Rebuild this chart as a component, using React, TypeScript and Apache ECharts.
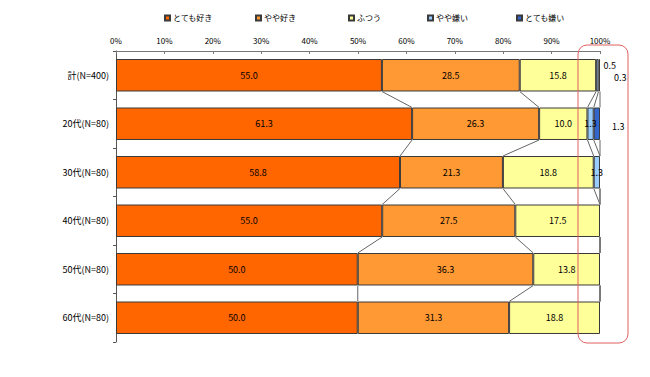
import React, { useEffect, useRef } from "react";
import * as echarts from "echarts";

const categories = ["計(N=400)", "20代(N=80)", "30代(N=80)", "40代(N=80)", "50代(N=80)", "60代(N=80)"];
const seriesNames = ["とても好き", "やや好き", "ふつう", "やや嫌い", "とても嫌い"];
const veryLike = [55.0, 61.3, 58.8, 55.0, 50.0, 50.0];
const somewhatLike = [28.5, 26.3, 21.3, 27.5, 36.3, 31.3];
const neutral = [15.8, 10.0, 18.8, 17.5, 13.8, 18.8];
const somewhatDislike = [0.5, 1.3, 1.3, 0, 0, 0];
const veryDislike = [0.3, 1.3, 0, 0, 0, 0];
const colors = ["#FF6600", "#FF9933", "#FFFF99", "#99CCFF", "#3366CC"];
const legendLefts = [159, 250, 343, 422, 511];

const FONT = "'Noto Sans CJK JP', 'Noto Sans', sans-serif";

export default function App() {
  const ref = useRef<HTMLDivElement>(null);
  useEffect(() => {
    if (!ref.current) return;
    const chart = echarts.init(ref.current, null, { renderer: "svg" });
    const raw = [veryLike, somewhatLike, neutral, somewhatDislike, veryDislike];
    const totals = categories.map((_, i) => raw.reduce((s, arr) => s + arr[i], 0));
    const norm = raw.map((arr) => arr.map((v, i) => (v / totals[i]) * 100));
    const cum = categories.map((_, i) => {
      let acc = 0;
      return norm.map((arr) => (acc += arr[i]));
    });
    const gap = 0.33;

    const labelOverrides: Record<string, any> = {
      "3-0": { position: "right", distance: 5, offset: [0, -10] },
      "4-0": { position: "right", distance: 14, offset: [0, 2] },
      "4-1": { position: "right", distance: 12, offset: [0, 3] },
    };

    const barSeries = raw.map((arr, s) => ({
      name: seriesNames[s],
      type: "bar",
      stack: "total",
      barCategoryGap: "33%",
      itemStyle: { color: colors[s], borderColor: "#3a3a3a", borderWidth: 1 },
      label: {
        show: true,
        position: "inside",
        fontSize: 9,
        color: "#000",
        fontFamily: FONT,
        formatter: (p: any) => arr[p.dataIndex].toFixed(1),
      },
      data: arr.map((v, i) => {
        if (v === 0) return "-";
        const ov = labelOverrides[`${s}-${i}`];
        return ov ? { value: norm[s][i], label: ov } : norm[s][i];
      }),
    }));

    const lineSeries = {
      type: "custom",
      silent: true,
      z: 1,
      renderItem: (_params: any, api: any) => {
        const i = api.value(1) as number;
        const band = api.size([0, 1])[1];
        const half = (band * (1 - gap)) / 2;
        const children: any[] = [];
        for (let k = 0; k < raw.length; k++) {
          const p1 = api.coord([cum[i][k], i]);
          const p2 = api.coord([cum[i + 1][k], i + 1]);
          children.push({
            type: "line",
            shape: { x1: p1[0], y1: p1[1] + half, x2: p2[0], y2: p2[1] - half },
            style: { stroke: "#666", lineWidth: 1 },
          });
        }
        return { type: "group", children };
      },
      data: categories.slice(0, -1).map((_, i) => [0, i]),
    };

    chart.setOption({
      animation: false,
      backgroundColor: "#fff",
      textStyle: { fontFamily: FONT },
      legend: seriesNames.map((n, s) => ({
        data: [n],
        left: legendLefts[s],
        top: 9,
        itemWidth: 5,
        itemHeight: 5,
        itemGap: 0,
        icon: "rect",
        textStyle: { fontSize: 8, color: "#000", fontFamily: FONT, padding: [0, 0, 0, -2] },
      })),
      grid: { left: 116, right: 50, top: 51, bottom: 35 },
      xAxis: {
        type: "value",
        position: "top",
        min: 0,
        max: 100,
        interval: 10,
        axisLine: { show: true, lineStyle: { color: "#777" } },
        axisTick: { show: true, inside: true, length: 3, lineStyle: { color: "#777" } },
        splitLine: { show: false },
        axisLabel: { formatter: "{value}%", fontSize: 8, color: "#000", margin: 7, fontFamily: FONT },
      },
      yAxis: {
        type: "category",
        inverse: true,
        data: categories,
        axisLine: { show: true, lineStyle: { color: "#555" } },
        axisTick: { show: true, length: 3, lineStyle: { color: "#555" } },
        axisLabel: { fontSize: 9, color: "#000", margin: 7, fontFamily: FONT },
      },
      graphic: [
        {
          type: "rect",
          shape: { x: 578, y: 45, width: 50, height: 298, r: 9 },
          style: { fill: "none", stroke: "#e06060", lineWidth: 1 },
          z: 100,
        },
      ],
      series: [...barSeries, lineSeries],
    });
    return () => chart.dispose();
  }, []);
  return (
    <div
      ref={ref}
      style={{ position: "fixed", left: 0, top: 0, width: 650, height: 377 }}
    />
  );
}
